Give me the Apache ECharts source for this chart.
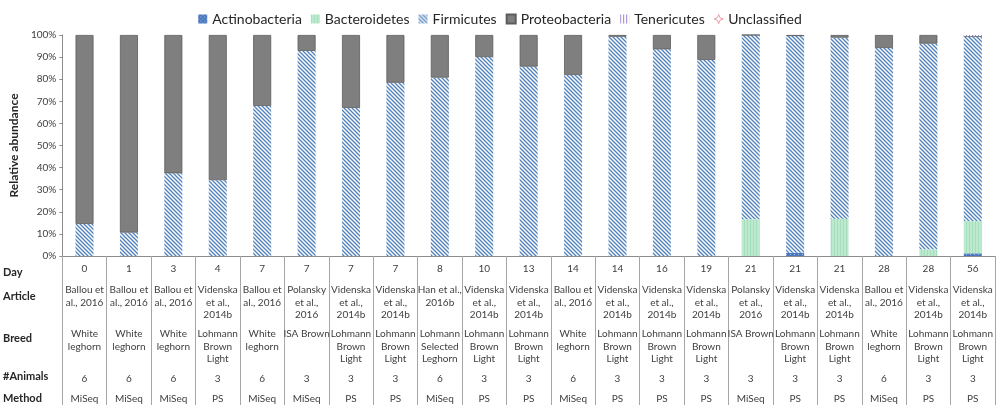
<!DOCTYPE html>
<html>
<head>
<meta charset="utf-8">
<script src="https://cdn.jsdelivr.net/npm/echarts@6/dist/echarts.min.js"></script>
<style>html,body{margin:0;padding:0;background:#fff;}#c{width:1000px;height:411px;}</style>
</head>
<body>
<div id="c"></div>
<script>
const days = ['0','1','3','4','7','7','7','7','8','10','13','14','14','16','19','21','21','21','28','28','56'];
const articles = ['Ballou et\nal., 2016','Ballou et\nal., 2016','Ballou et\nal., 2016','Videnska\net al.,\n2014b','Ballou et\nal., 2016','Polansky\net al.,\n2016','Videnska\net al.,\n2014b','Videnska\net al.,\n2014b','Han et al.,\n2016b','Videnska\net al.,\n2014b','Videnska\net al.,\n2014b','Ballou et\nal., 2016','Videnska\net al.,\n2014b','Videnska\net al.,\n2014b','Videnska\net al.,\n2014b','Polansky\net al.,\n2016','Videnska\net al.,\n2014b','Videnska\net al.,\n2014b','Ballou et\nal., 2016','Videnska\net al.,\n2014b','Videnska\net al.,\n2014b'];
const breeds = ['White\nleghorn','White\nleghorn','White\nleghorn','Lohmann\nBrown\nLight','White\nleghorn','ISA Brown','Lohmann\nBrown\nLight','Lohmann\nBrown\nLight','Lohmann\nSelected\nLeghorn','Lohmann\nBrown\nLight','Lohmann\nBrown\nLight','White\nleghorn','Lohmann\nBrown\nLight','Lohmann\nBrown\nLight','Lohmann\nBrown\nLight','ISA Brown','Lohmann\nBrown\nLight','Lohmann\nBrown\nLight','White\nleghorn','Lohmann\nBrown\nLight','Lohmann\nBrown\nLight'];
const animals = ['6','6','6','3','6','3','3','3','6','3','3','6','3','3','3','3','3','3','6','3','3'];
const methods = ['MiSeq','MiSeq','MiSeq','PS','MiSeq','MiSeq','PS','PS','MiSeq','PS','PS','MiSeq','PS','PS','PS','MiSeq','PS','PS','MiSeq','PS','PS'];
const rowLabels = ['Day','Article','Breed','#Animals','Method'];
const yTicks = [0,10,20,30,40,50,60,70,80,90,100];

const actinobacteria = [0,0,0,0,0,0,0,0,0,0,0,0,0,0,0,0,1.5,0,0,0,1.2];
const bacteroidetes  = [0,0,0,0,0,0,0,0,0,0,0,0,0,0,0,16.6,0,16.9,0,3.0,14.6];
const firmicutes     = [14.5,10.6,37.4,34.3,67.9,92.8,67.0,78.4,80.7,90.0,85.7,81.9,99.2,93.5,88.7,83.4,98.0,81.9,94.1,93.1,83.7];
const proteobacteria = [85.5,89.4,62.6,65.7,32.1,7.2,33.0,21.6,19.3,10.0,14.3,18.1,0.8,6.5,11.3,0,0.5,1.2,5.9,3.9,0];
const tenericutes    = [0,0,0,0,0,0,0,0,0,0,0,0,0,0,0,0,0,0,0,0,0.5];
const unclassified   = [0,0,0,0,0,0,0,0,0,0,0,0,0,0,0,0,0,0,0,0,0];
const seriesNames = ['Actinobacteria','Bacteroidetes','Firmicutes','Proteobacteria','Tenericutes','Unclassified'];

function patt(w,h,draw){
  const c=document.createElement('canvas'); c.width=w; c.height=h;
  const ctx=c.getContext('2d'); draw(ctx); return {image:c, repeat:'repeat'};
}
const firmPat = patt(4,4,ctx=>{
  ctx.fillStyle='#ffffff'; ctx.fillRect(0,0,4,4);
  ctx.strokeStyle='#4f81bd'; ctx.lineWidth=1.3;
  ctx.beginPath();
  ctx.moveTo(-1,-1); ctx.lineTo(5,5);
  ctx.moveTo(-1,3); ctx.lineTo(1,5);
  ctx.moveTo(3,-1); ctx.lineTo(5,1);
  ctx.stroke();
});
const bactPat = patt(3,1,ctx=>{
  ctx.fillStyle='#bdeacf'; ctx.fillRect(0,0,3,1);
  ctx.fillStyle='#a5dfbd'; ctx.fillRect(0,0,1,1);
});
const actPat = patt(4,4,ctx=>{
  ctx.fillStyle='#4a78c0'; ctx.fillRect(0,0,4,4);
  ctx.fillStyle='#9fbbe3'; ctx.fillRect(0,0,1,1); ctx.fillRect(2,2,1,1);
});
const tenPat = patt(3,1,ctx=>{
  ctx.fillStyle='#ffffff'; ctx.fillRect(0,0,3,1);
  ctx.fillStyle='#a07fd6'; ctx.fillRect(0,0,1,1);
});

const font = 'Lato, "Liberation Sans", sans-serif';
const txtColor = '#404040';

function tableAxis(data, margin, lh){
  return {
    type:'category', data:data, gridIndex:0, position:'bottom',
    axisLine:{show:false}, axisTick:{show:false}, splitLine:{show:false},
    axisLabel:{interval:0, margin:margin, verticalAlign:'top', lineHeight:lh, fontSize:10, fontFamily:font, color:txtColor, align:'center'}
  };
}

const styles = [
  {color:actPat},
  {color:bactPat},
  {color:firmPat},
  {color:'#7f7f7f', borderColor:'#5c5c5c', borderWidth:0.8},
  {color:tenPat},
  {color:'#f4b6bd'}
];
const values = [actinobacteria,bacteroidetes,firmicutes,proteobacteria,tenericutes,unclassified];

const chart = echarts.init(document.getElementById('c'), null, {renderer:'canvas'});
chart.setOption({
  backgroundColor:'#ffffff',
  animation:false,
  textStyle:{fontFamily:font},
  legend:{
    top:7, left:'center', itemWidth:9, itemHeight:9, itemGap:9, icon:'rect',
    textStyle:{fontSize:14, color:'#262626', fontFamily:font},
    data:[
      {name:'Actinobacteria'},{name:'Bacteroidetes'},{name:'Firmicutes'},
      {name:'Proteobacteria'},{name:'Tenericutes'},
      {name:'Unclassified', icon:'path://M5,0 L6.4,3.6 L10,5 L6.4,6.4 L5,10 L3.6,6.4 L0,5 L3.6,3.6 Z', itemStyle:{color:'#fff', borderColor:'#f09aa5', borderWidth:1}}
    ]
  },
  grid:{left:50, right:5, top:35, bottom:155, containLabel:false},
  xAxis:[
    {
      type:'category', data:days, gridIndex:0, position:'bottom',
      axisLine:{show:true, lineStyle:{color:'#8c8c8c', width:1}},
      axisTick:{show:true, interval:0, length:149, alignWithLabel:false, lineStyle:{color:'#a6a6a6', width:1}},
      axisLabel:{interval:0, margin:8, verticalAlign:'top', fontSize:10, fontFamily:font, color:txtColor},
      splitLine:{show:false}
    },
    tableAxis(articles, 28, 12.5),
    tableAxis(breeds, 72, 12.5),
    tableAxis(animals, 117, 12.5),
    tableAxis(methods, 137, 12.5)
  ],
  yAxis:{
    type:'value', min:0, max:100, interval:10,
    name:'Relative abundance', nameLocation:'middle', nameGap:36,
    nameTextStyle:{fontSize:12, fontWeight:'bold', color:'#262626', fontFamily:font},
    axisLine:{show:true, lineStyle:{color:'#8c8c8c'}},
    axisTick:{show:true, length:3, lineStyle:{color:'#8c8c8c'}},
    axisLabel:{formatter:'{value}%', fontSize:10, color:txtColor, margin:6, fontFamily:font},
    splitLine:{show:false}
  },
  graphic: rowLabels.map((t,i)=>({
    type:'text', left:3, top:[267,291,333,371,393][i],
    style:{text:t, font:'bold 11px '+font, fill:'#262626'}
  })),
  series: seriesNames.map((n,i)=>({
    name:n, type:'bar', stack:'total', barWidth:18, xAxisIndex:0,
    itemStyle:styles[i], data:values[i]
  }))
});
</script>
</body>
</html>
